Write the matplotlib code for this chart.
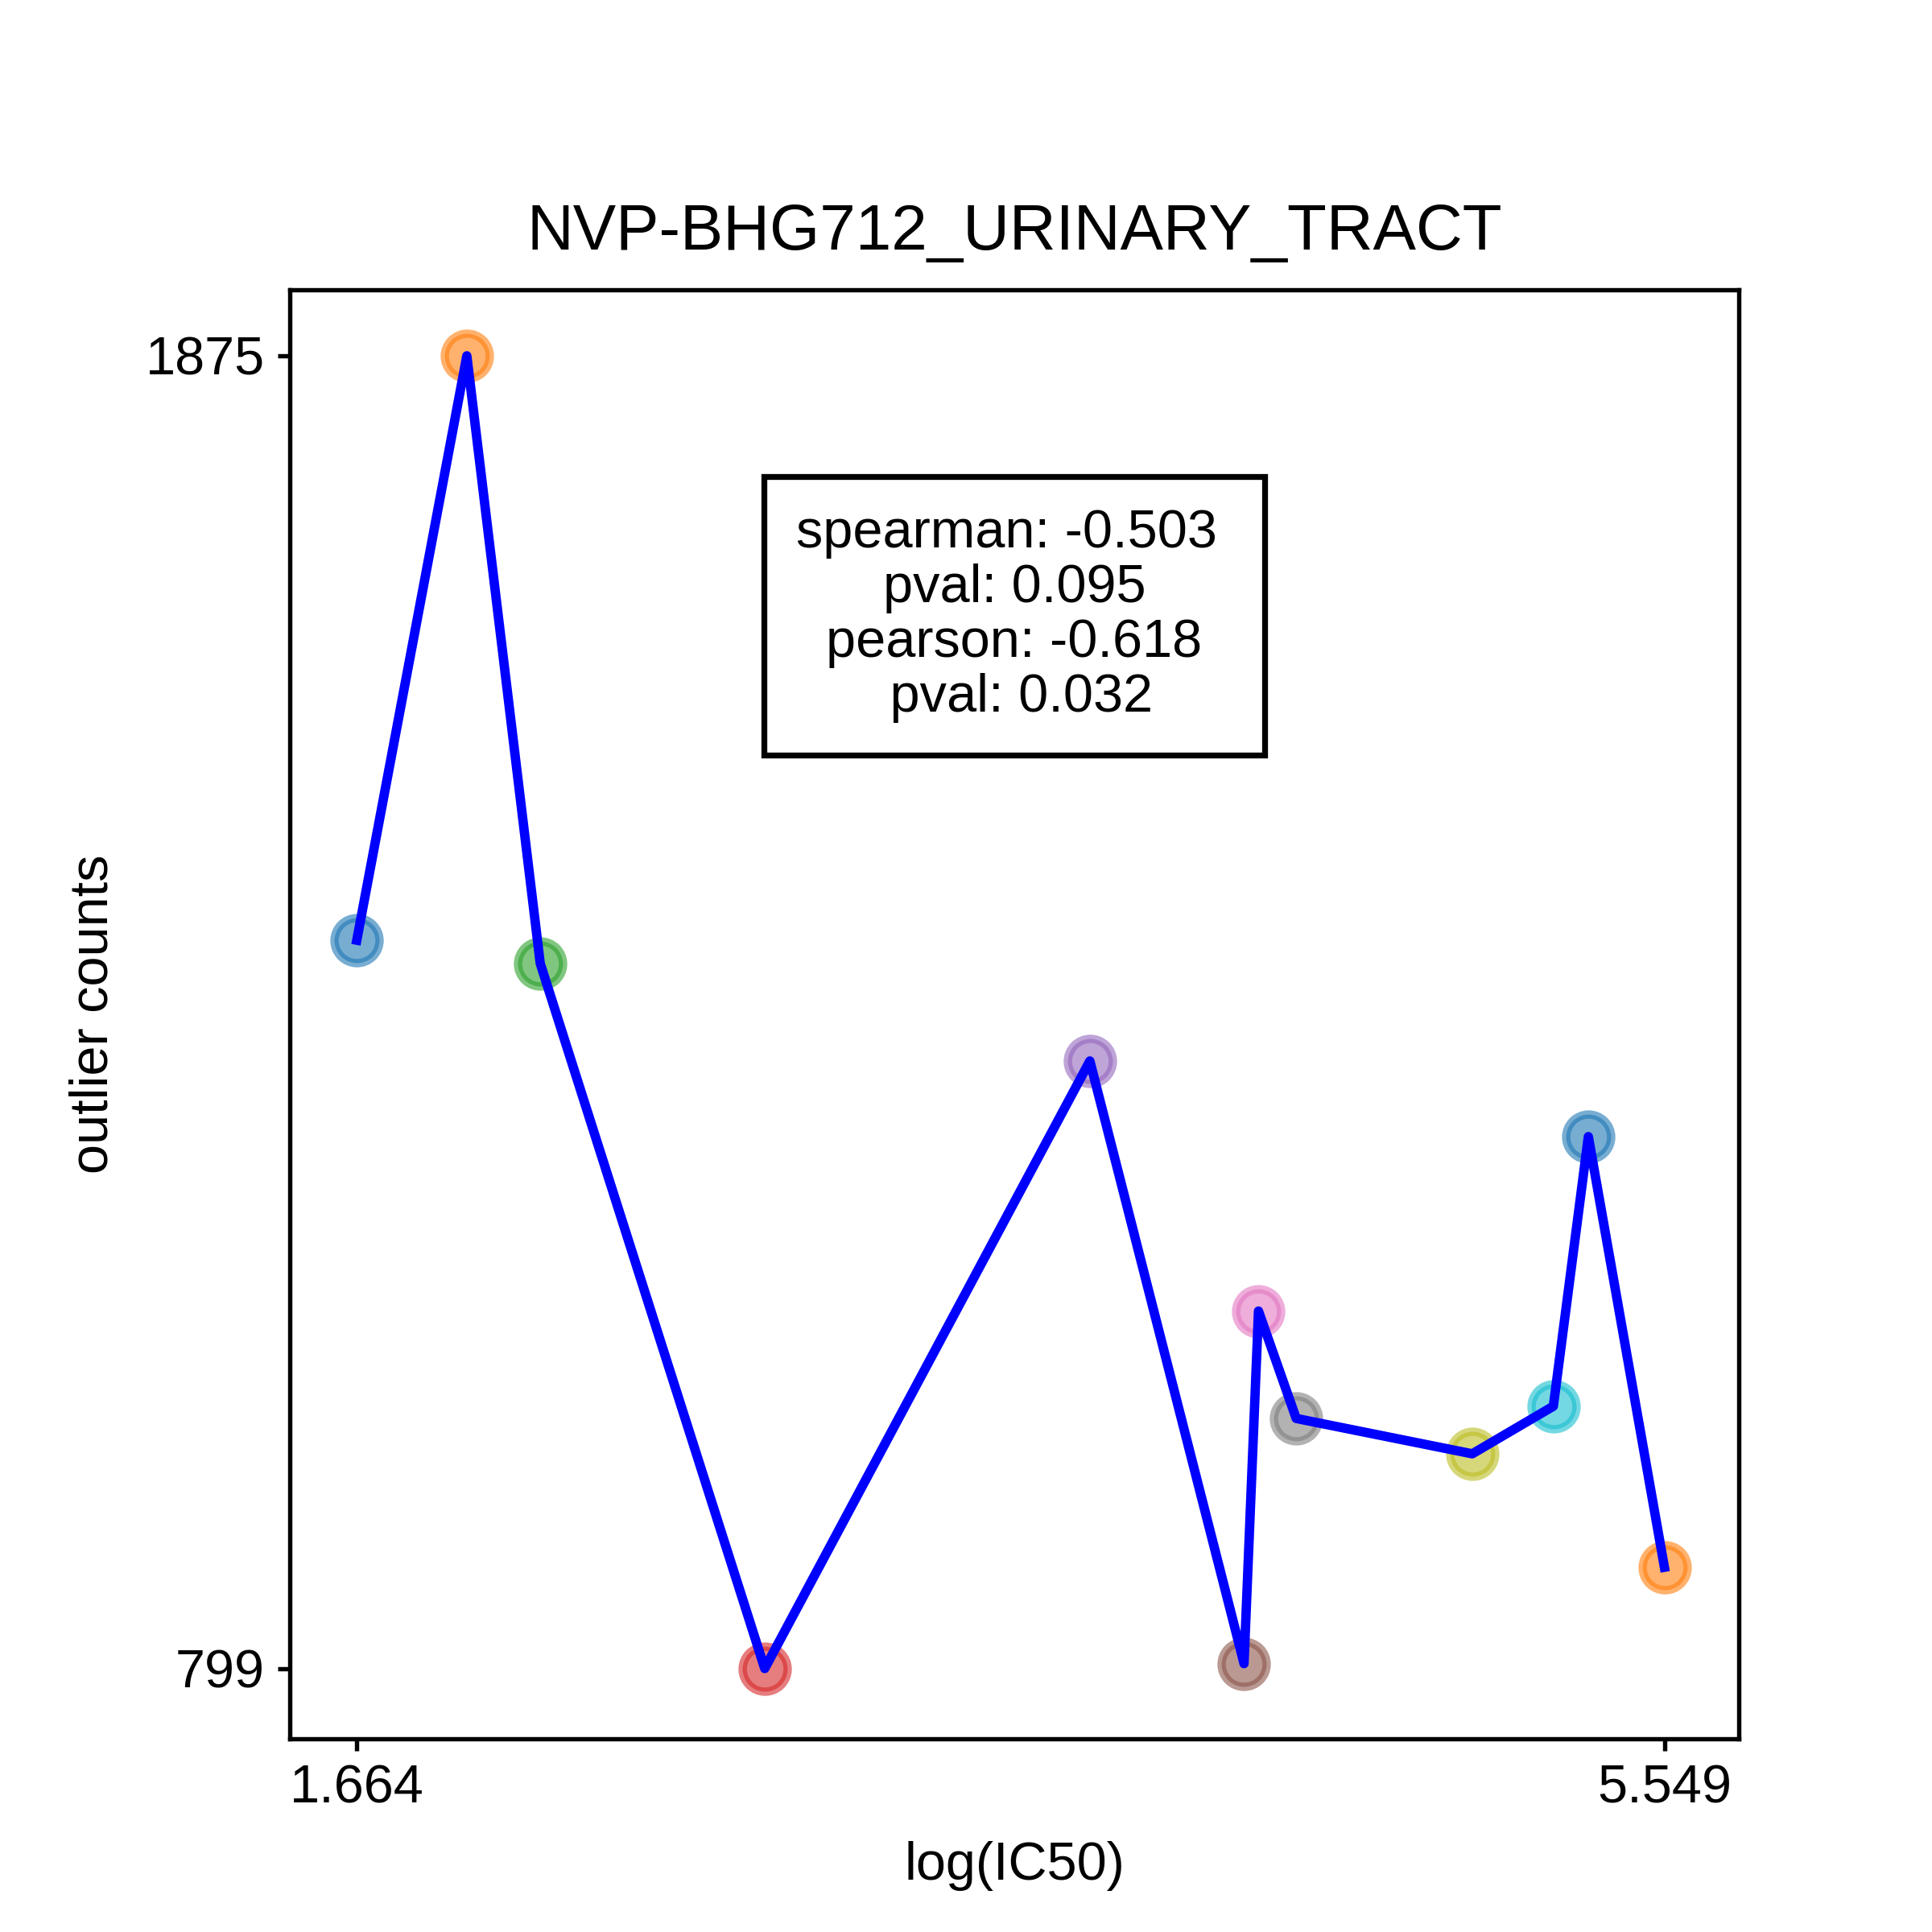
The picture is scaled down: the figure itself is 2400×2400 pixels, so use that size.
import matplotlib
matplotlib.use("Agg")
import matplotlib.pyplot as plt

plt.rcParams['font.family'] = ['Liberation Sans', 'DejaVu Sans']
plt.rcParams['font.size'] = 16

# Values (sorted by log(IC50))
log_ic50 = [1.664, 1.991, 2.209, 2.876, 3.842, 4.300, 4.343, 4.455, 4.978, 5.219, 5.323, 5.549]
outlier_counts = [1396, 1875, 1377, 799, 1297, 803, 1092, 1004, 975, 1014, 1235, 882]

title = "NVP-BHG712_URINARY_TRACT"
stats_text = "spearman: -0.503 \npval: 0.095\npearson: -0.618\n pval: 0.032"

fig = plt.figure(figsize=(8, 8), dpi=300)
ax = fig.add_axes([0.15, 0.1, 0.75, 0.75])

# one scatter call per point, so colours follow the default cycle
for i, (x, y) in enumerate(zip(log_ic50, outlier_counts)):
    ax.scatter(x, y, s=180, color=f"C{i % 10}", alpha=0.6, linewidths=2.5, zorder=2)
ax.plot(log_ic50, outlier_counts, color="blue", linewidth=2.8, zorder=3)

# ticks only at the ends of the data range
xt = [min(log_ic50), max(log_ic50)]
yt = [min(outlier_counts), max(outlier_counts)]
ax.set_xticks(xt)
ax.set_xticklabels(["%.3f" % v for v in xt])
ax.set_yticks(yt)
ax.set_yticklabels(["%d" % v for v in yt])
ax.set_xlim(1.465, 5.770)
ax.set_ylim(741.4, 1929.1)

for sp in ax.spines.values():
    sp.set_linewidth(1.3)
ax.tick_params(width=1.3, length=3.5, pad=4)

ax.text(0.5, 0.775, stats_text, transform=ax.transAxes, ha="center", va="center",
        multialignment="center", linespacing=1.12,
        bbox=dict(boxstyle="square,pad=0.6", facecolor="white", edgecolor="black", linewidth=1.75))

ax.set_title(title, fontsize=19.2, pad=12)
ax.set_xlabel("log(IC50)", labelpad=8)
ax.set_ylabel("outlier counts", labelpad=8)

fig.savefig("out.png", dpi=300)
